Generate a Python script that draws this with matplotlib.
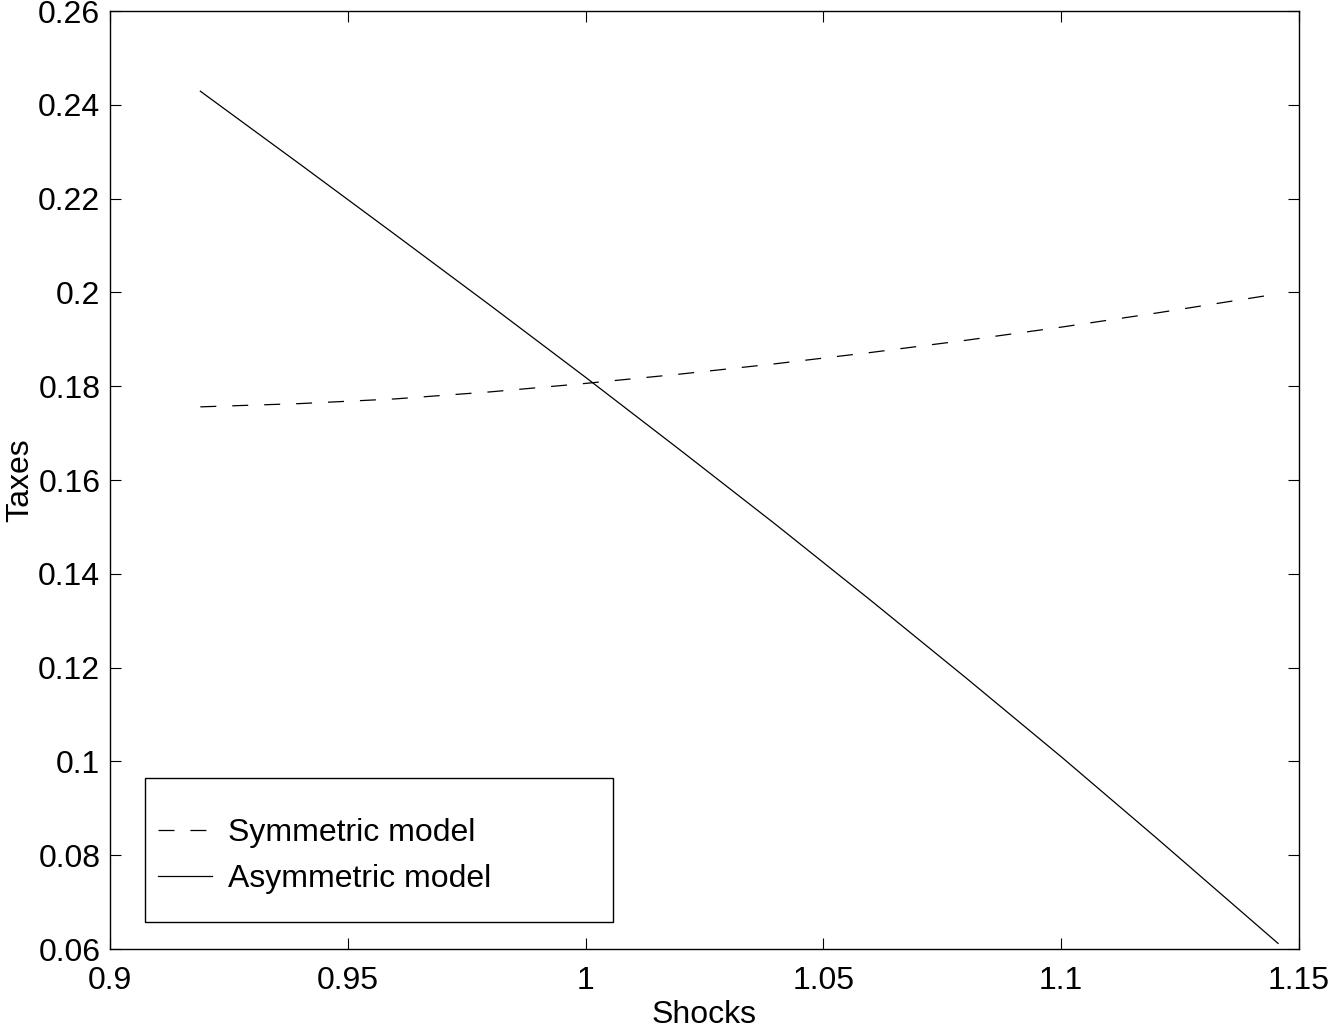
import matplotlib
matplotlib.use("Agg")
import matplotlib.pyplot as plt
from matplotlib.patches import Rectangle

# values
shocks = [0.919, 0.94, 0.96, 0.98, 1.00, 1.02, 1.04, 1.06, 1.08, 1.10, 1.12, 1.1456]
taxes_symmetric = [0.1756, 0.1763, 0.1773, 0.1788, 0.1806, 0.1826, 0.1848, 0.1872,
                   0.1898, 0.1926, 0.1956, 0.1997]
taxes_asymmetric = [0.2429, 0.2273, 0.2123, 0.1972, 0.1819, 0.1663, 0.1505, 0.1343,
                    0.1178, 0.1010, 0.0837, 0.0612]

xticks = [0.9, 0.95, 1.0, 1.05, 1.1, 1.15]
xticklabels = ["0.9", "0.95", "1", "1.05", "1.1", "1.15"]
yticks = [0.06, 0.08, 0.10, 0.12, 0.14, 0.16, 0.18, 0.20, 0.22, 0.24, 0.26]
yticklabels = ["0.06", "0.08", "0.1", "0.12", "0.14", "0.16", "0.18", "0.2",
               "0.22", "0.24", "0.26"]

plt.rcParams['font.family'] = ['Liberation Sans', 'DejaVu Sans']
plt.rcParams['font.size'] = 23
plt.rcParams['lines.scale_dashes'] = False

fig = plt.figure(figsize=(13.33, 10.29), dpi=100)
ax = fig.add_axes([0.0825, 0.0777, 0.892, 0.9116])

ax.plot(shocks, taxes_symmetric, color='black', lw=0.9, dashes=(11.5, 11.5),
        label='Symmetric model')
ax.plot(shocks, taxes_asymmetric, color='black', lw=0.9, label='Asymmetric model')

ax.set_xlim(0.9, 1.15)
ax.set_ylim(0.06, 0.26)
ax.set_xticks(xticks)
ax.set_xticklabels(xticklabels)
ax.set_yticks(yticks)
ax.set_yticklabels(yticklabels)
ax.tick_params(direction='in', length=8, width=0.8, top=True, right=True)
ax.tick_params(axis='x', pad=12)
ax.tick_params(axis='y', pad=7)
for s in ax.spines.values():
    s.set_linewidth(1.0)

ax.set_xlabel('Shocks', labelpad=3)
ax.set_ylabel('Taxes', labelpad=2)

# legend box drawn by hand, entries via legend without frame
ax.add_patch(Rectangle((0.0294, 0.0288), 0.3936, 0.1535, transform=ax.transAxes,
                       facecolor='white', edgecolor='black', lw=1.0, zorder=5))
leg = ax.legend(loc='center left', bbox_to_anchor=(0.0404, 0.099), frameon=False,
                borderpad=0, borderaxespad=0, handlelength=1.7, handletextpad=0.5,
                labelspacing=0.52)
leg.set_zorder(6)

fig.savefig('out.png', dpi=100)
